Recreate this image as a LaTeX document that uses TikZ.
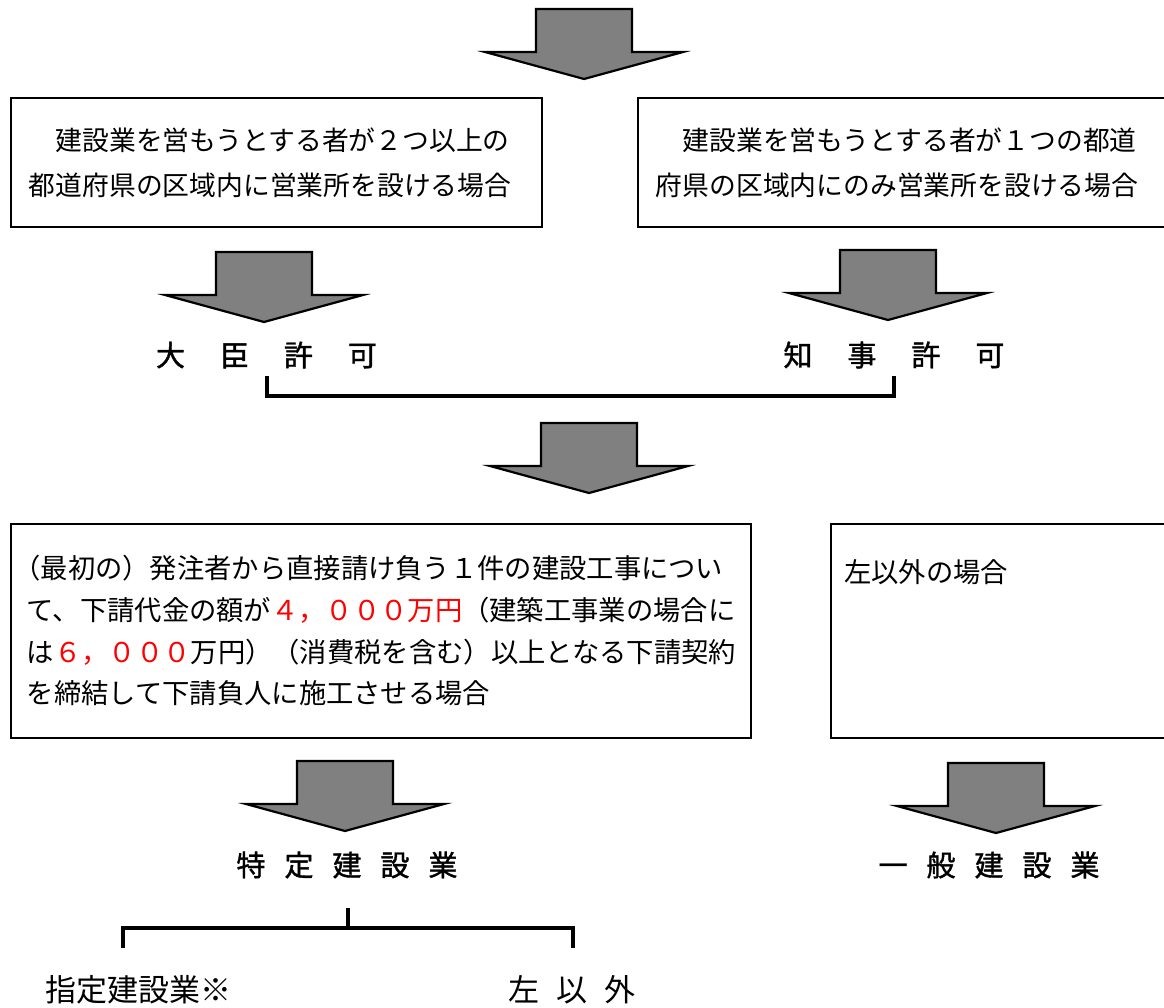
\documentclass[tikz,border=0pt]{standalone}
\usepackage{fontspec}
\setmainfont{Noto Sans CJK JP}
\newfontfamily\jpmedium{Noto Sans CJK JP}[FakeBold=1.3]
\usetikzlibrary{positioning}

\definecolor{arrowgray}{RGB}{128,128,128}

\tikzset{
  casebox/.style={draw, line width=1.8pt, anchor=north west, align=left,
    inner ysep=0pt},
  casetext/.style={font=\fontsize{26.8}{45}\selectfont},
  casetextb/.style={font=\fontsize{27.3}{41.7}\selectfont},
  result/.style={font=\jpmedium\fontsize{29}{29}\selectfont, inner sep=0pt},
  kind/.style={font=\fontsize{31}{31}\selectfont, inner sep=0pt},
  bracket/.style={line width=3.5pt},
  bigarrow/.pic={
    \draw[fill=arrowgray, line width=2.2pt, line join=miter]
      (-48,0) -- (48,0) -- (48,43) -- (99,43) -- (0,70)
      -- (-99,43) -- (-48,43) -- cycle;
  }
}

\begin{document}
\begin{tikzpicture}[x=1pt, y=-1pt]
	\useasboundingbox[fill=white] (0,0) rectangle (1164,1008);

	% arrows
	\pic at (584,9) {bigarrow};
	\pic at (264,252) {bigarrow};
	\pic at (888,250) {bigarrow};
	\pic at (589,423) {bigarrow};
	\pic at (345,761) {bigarrow};
	\pic at (996,763) {bigarrow};

	% first step
	\node[casebox, casetext, inner xsep=18pt, text width=495pt, minimum height=129pt] (many) at (10,97)
		{　建設業を営もうとする者が２つ以上の\\都道府県の区域内に営業所を設ける場合};
	\node[casebox, casetext, inner xsep=18pt, text width=504pt, minimum height=129pt] (one) at (637,97)
		{　建設業を営もうとする者が１つの都道\\府県の区域内にのみ営業所を設ける場合};

	\node[result] (daijin) at (266.5,355) {大\hspace{35pt}臣\hspace{35pt}許\hspace{35pt}可};
	\node[result] (chiji) at (894,355) {知\hspace{35pt}事\hspace{35pt}許\hspace{35pt}可};

	\coordinate (joinL) at (267,376);
	\coordinate (joinR) at (894,376);
	\draw[bracket] (joinL) -- ++(0,20) -| (joinR);

	% second step
	\node[casebox, casetextb, inner xsep=16pt, text width=708pt, minimum height=214pt] (special) at (10,523)
		{\hspace{-13.5pt}（最初の）発注者から直接請け負う１件の建設工事につい\\
		て、下請代金の額が{\color{red}４，０００万円}（建築工事業の場合に\\
		は{\color{red}６，０００}万円）（消費税を含む）以上となる下請契約\\
		を締結して下請負人に施工させる場合};
	\node[casebox, minimum width=345pt, minimum height=214pt] (other) at (830,523) {};
	\node[casetextb, inner sep=0pt, below right=36pt and 14pt of other.north west] (othertext) {左以外の場合};

	\node[result] (tokutei) at (347,865) {特\hspace{19pt}定\hspace{19pt}建\hspace{19pt}設\hspace{19pt}業};
	\node[result] (ippan) at (989,865) {一\hspace{19pt}般\hspace{19pt}建\hspace{19pt}設\hspace{19pt}業};

	\coordinate (splitTop) at (348,908);
	\coordinate (splitL) at (123,948);
	\coordinate (splitR) at (573,948);
	\draw[bracket] (splitTop) -- ++(0,20);
	\draw[bracket] (splitL) -- ++(0,-20) -| (splitR);

	\node[kind, anchor=west] (shitei) at (45,990) {指定建設業※};
	\node[kind] (sonota) at (572,990) {左\hspace{17pt}以\hspace{17pt}外};
\end{tikzpicture}
\end{document}
